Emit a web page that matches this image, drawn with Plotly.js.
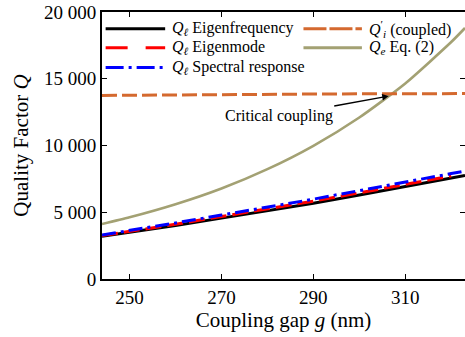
<!DOCTYPE html>
<html>
<head>
<meta charset="utf-8">
<script src="https://cdn.plot.ly/plotly-3.0.1.min.js"></script>
<style>html,body{margin:0;padding:0;background:#fff;}#chart{width:465px;height:337px;}</style>
</head>
<body>
<div id="chart"></div>
<script>
// Coupling gap g (nm)
const gap = [244, 250, 260, 270, 280, 290, 300, 310, 320, 323];
const gapRed = [244, 250, 260, 270, 280, 290, 300, 310, 320];
// Q_l eigenfrequency
const qlEigenfreq = [3200, 3480, 4000, 4560, 5100, 5680, 6300, 6950, 7560, 7750];
// Q_l eigenmode
const qlEigenmode = [3250, 3560, 4100, 4680, 5250, 5830, 6450, 7100, 7720];
// Q_l spectral response
const qlSpectral = [3300, 3620, 4200, 4790, 5380, 5980, 6620, 7280, 7900, 8080];
// Q_i' (coupled)
const qiCoupled = [13750, 13770, 13790, 13810, 13840, 13855, 13870, 13880, 13890, 13890];
// Q_e Eq. (2)
const qeEq2 = [4120, 4620, 5600, 6780, 8230, 9980, 12100, 14650, 17750, 18800];

const xTickVals = [250, 270, 290, 310];
const yTickVals = [0, 5000, 10000, 15000, 20000];
const yTickText = ["0", "5 000", "10 000", "15 000", "20 000"];

const legendNames = [
  "<i>Q</i><sub><i>ℓ</i></sub> Eigenfrequency",
  "<i>Q</i><sub><i>ℓ</i></sub> Eigenmode",
  "<i>Q</i><sub><i>ℓ</i></sub> Spectral response",
  "<i>Q</i><sup>′</sup><sub><i>i</i></sub> (coupled)",
  "<i>Q</i><sub><i>e</i></sub> Eq. (2)"
];

const FONT = "Liberation Serif";
const cBlack = "#000000", cRed = "#ff0000", cBlue = "#0000ff", cOrange = "#d4692f", cOlive = "#a3a173";

const traces = [
  {x: gap, y: qeEq2, mode: "lines", line: {color: cOlive, width: 2.6, shape: "spline", smoothing: 0.6}, name: "Qe Eq. (2)"},
  {x: gap, y: qiCoupled, mode: "lines", line: {color: cOrange, width: 3, dash: "15px,5px"}, name: "Qi' (coupled)"},
  {x: gap, y: qlEigenfreq, mode: "lines", line: {color: cBlack, width: 3}, name: "Ql Eigenfrequency"},
  {x: gapRed, y: qlEigenmode, mode: "lines", line: {color: cRed, width: 3, dash: "16px,6px"}, name: "Ql Eigenmode"},
  {x: gap, y: qlSpectral, mode: "lines", line: {color: cBlue, width: 3, dash: "14px,5px,3px,5px"}, name: "Ql Spectral response"}
];

// manual legend (two columns)
const legItems = [
  {col: 0, row: 0, color: cBlack, dash: "solid"},
  {col: 0, row: 1, color: cRed, dash: "22px,18px"},
  {col: 0, row: 2, color: cBlue, dash: "18px,5px,3px,5px"},
  {col: 1, row: 0, color: cOrange, dash: "23px,3px"},
  {col: 1, row: 1, color: cOlive, dash: "solid"}
];
const colX = [[0.010, 0.174, 0.188], [0.555, 0.716, 0.729]];
const rowY = [0.937, 0.866, 0.792];
const shapes = [];
const annotations = [];
legItems.forEach((it, i) => {
  const cx = colX[it.col];
  shapes.push({type: "line", xref: "paper", yref: "paper", x0: cx[0], x1: cx[1], y0: rowY[it.row], y1: rowY[it.row],
               line: {color: it.color, width: 3, dash: it.dash}});
  annotations.push({xref: "paper", yref: "paper", x: cx[2], y: rowY[it.row], xanchor: "left", yanchor: "middle",
                    showarrow: false, text: legendNames[i], font: {family: FONT, size: 16, color: "#000"}});
});
annotations.push({x: 306.4, y: 13700, xref: "x", yref: "y", text: "Critical coupling", showarrow: true,
                  arrowhead: 2, arrowsize: 1, arrowwidth: 1.3, arrowcolor: "#000", ax: -110, ay: 20,
                  font: {family: FONT, size: 16, color: "#000"}});

const layout = {
  width: 465, height: 337,
  margin: {l: 102, r: 0, t: 12, b: 58},
  paper_bgcolor: "#fff", plot_bgcolor: "#fff",
  showlegend: false,
  font: {family: FONT, color: "#000"},
  xaxis: {
    range: [244, 323], tickvals: xTickVals, ticks: "inside", ticklen: 5, tickwidth: 1.2, tickcolor: "#000",
    showline: true, linecolor: "#000", linewidth: 2, mirror: "ticks", showgrid: false, zeroline: false,
    tickfont: {family: FONT, size: 19, color: "#000"},
    title: {text: "Coupling gap <i>g</i> (nm)", font: {family: FONT, size: 21, color: "#000"}, standoff: 3}
  },
  yaxis: {
    range: [0, 20000], tickvals: yTickVals, ticktext: yTickText, ticks: "inside", ticklen: 5, tickwidth: 1.2, tickcolor: "#000",
    showline: true, linecolor: "#000", linewidth: 2, mirror: "ticks", showgrid: false, zeroline: false,
    tickfont: {family: FONT, size: 19, color: "#000"},
    title: {text: "Quality Factor <i>Q</i>", font: {family: FONT, size: 21, color: "#000"}, standoff: 10}
  },
  shapes: shapes,
  annotations: annotations
};

Plotly.newPlot("chart", traces, layout, {staticPlot: true, displayModeBar: false});
</script>
</body>
</html>
